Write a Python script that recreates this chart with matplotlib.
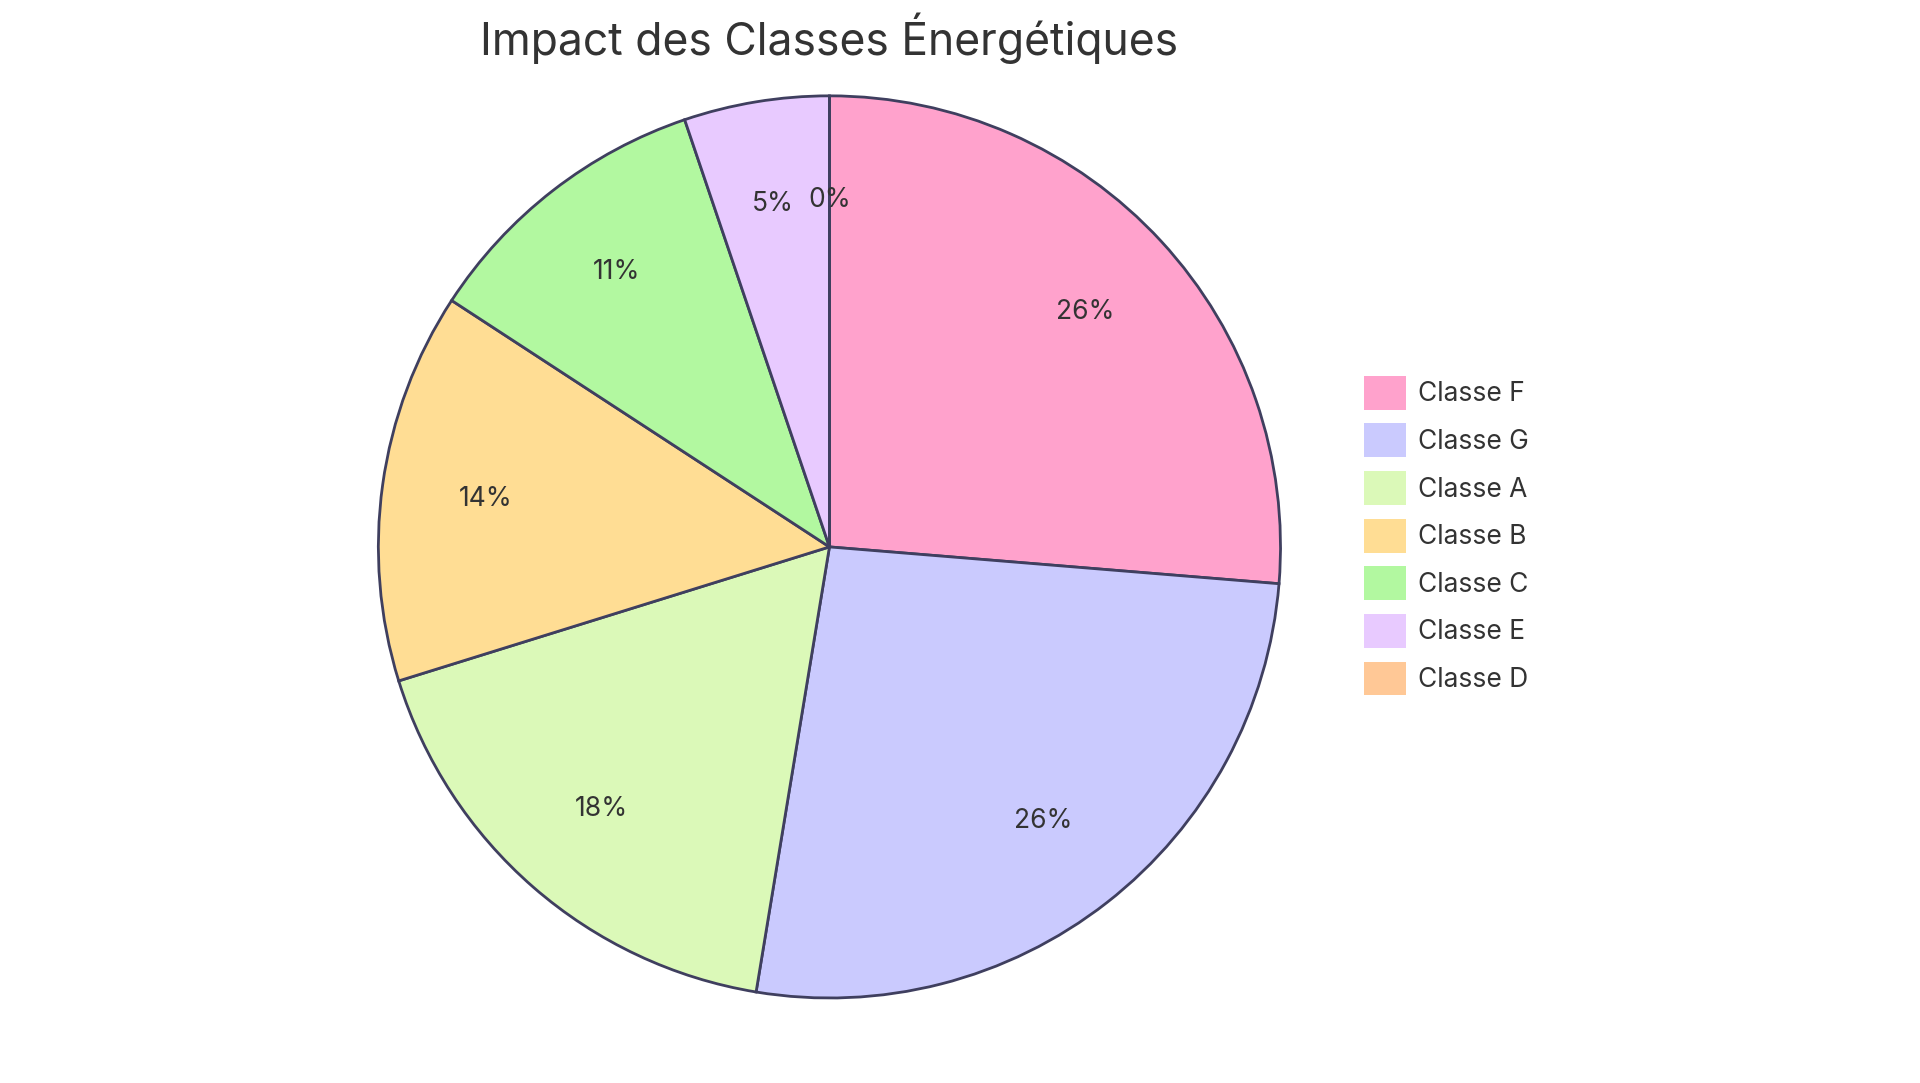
import matplotlib.pyplot as plt
from matplotlib.patches import Patch

# Data
labels = ['Classe F', 'Classe G', 'Classe A', 'Classe B', 'Classe C', 'Classe E', 'Classe D']
values = [26.3, 26.3, 17.6, 14.0, 10.6, 5.2, 0.0]
colors = ['#FFA2CC', '#CACAFE', '#DBF9B8', '#FFDD94', '#B2F8A0', '#E8CAFF', '#FFC896']
title = 'Impact des Classes Énergétiques'

plt.rcParams['font.family'] = ['Inter', 'DejaVu Sans']
text_color = '#333333'

fig = plt.figure(figsize=(19.2, 10.83), dpi=100)
ax = fig.add_axes([0.432 - 0.235, 0.495 - 0.4165, 0.47, 0.833])

wedges, texts, autotexts = ax.pie(
    values, colors=colors, startangle=90, counterclock=False,
    autopct='%1.0f%%', pctdistance=0.77,
    wedgeprops=dict(edgecolor='#3f3f5f', linewidth=2),
    textprops=dict(fontsize=19, color=text_color),
)
ax.set_xlim(-1.0, 1.0)
ax.set_ylim(-1.0, 1.0)
ax.set_aspect('equal')

fig.text(0.432, 0.965, title, ha='center', va='center', fontsize=32, color=text_color)

handles = [Patch(facecolor=c, edgecolor='none') for c in colors]
fig.legend(handles, labels, loc='upper left', bbox_to_anchor=(0.698, 0.675),
           frameon=False, fontsize=19, handlelength=1.6, handleheight=1.6,
           labelspacing=0.52, handletextpad=0.45, labelcolor=text_color)

fig.savefig('out.png', dpi=100)
